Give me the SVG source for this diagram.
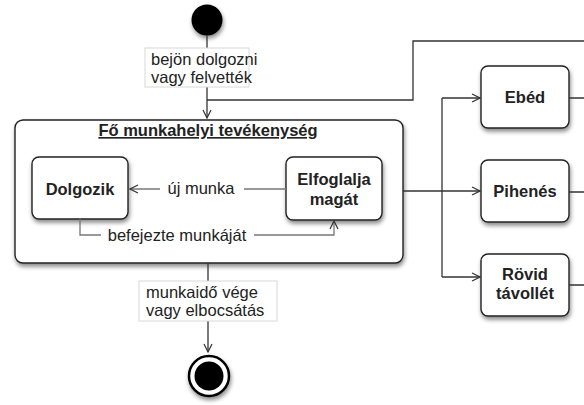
<svg xmlns="http://www.w3.org/2000/svg" width="584" height="405" viewBox="0 0 584 405">
<style>
.box{fill:#fff;stroke:#222;stroke-width:1.4}
.t{font-family:"Liberation Sans",Arial,sans-serif;font-size:16.5px;fill:#222}
.b{font-weight:bold;text-anchor:middle}
.lbl{fill:#fff;stroke:#d8d8d8;stroke-width:1}
.c{fill:none;stroke:#333;stroke-width:1.3}
.g{fill:none;stroke:#777;stroke-width:1.3}
</style>
<defs>
<filter id="sh" x="-20%" y="-20%" width="140%" height="150%">
<feDropShadow dx="1" dy="3" stdDeviation="2" flood-color="#000" flood-opacity="0.45"/>
</filter>
<marker id="ar" markerWidth="10" markerHeight="10" refX="9" refY="5" orient="auto" markerUnits="userSpaceOnUse">
<path d="M1,1 L9,5 L1,9" fill="none" stroke="#333" stroke-width="1.2"/>
</marker>
</defs>

<g id="start">
<circle cx="207" cy="20" r="15.5" fill="#000" filter="url(#sh)"/>
</g>

<g id="main">
<rect class="box" x="15" y="120" width="388" height="143" rx="8" filter="url(#sh)"/>
<text class="t b" x="208" y="136" text-decoration="underline">Fő munkahelyi tevékenység</text>
</g>

<g id="dolgozik">
<rect class="box" x="32" y="157" width="96" height="62" rx="7" filter="url(#sh)"/>
<text class="t b" x="80" y="195">Dolgozik</text>
</g>

<g id="elfoglalja">
<rect class="box" x="286" y="157" width="96" height="63" rx="7" filter="url(#sh)"/>
<text class="t b" x="334" y="185">Elfoglalja</text>
<text class="t b" x="334" y="205">magát</text>
</g>

<g id="ebed">
<rect class="box" x="481" y="66" width="88" height="62" rx="7" filter="url(#sh)"/>
<text class="t b" x="525" y="103">Ebéd</text>
</g>

<g id="pihenes">
<rect class="box" x="481" y="160" width="88" height="62" rx="7" filter="url(#sh)"/>
<text class="t b" x="525" y="197">Pihenés</text>
</g>

<g id="rovid">
<rect class="box" x="481" y="254" width="88" height="62" rx="7" filter="url(#sh)"/>
<text class="t b" x="525" y="280">Rövid</text>
<text class="t b" x="525" y="299">távollét</text>
</g>

<g id="end">
<circle cx="209" cy="376" r="20" fill="#fff" stroke="#000" stroke-width="2.5" filter="url(#sh)"/>
<circle cx="209" cy="376" r="14.5" fill="#000"/>
</g>

<g id="connectors">
<path class="c" d="M207,35 V118" marker-end="url(#ar)"/>
<path class="c" d="M207,100 H413 V41 H584"/>
<path class="g" d="M286,189 H130" marker-end="url(#ar)"/>
<path class="g" d="M80,219 V235 H334 V221" marker-end="url(#ar)"/>
<path class="c" d="M403,191 H480" marker-end="url(#ar)"/>
<path class="c" d="M442,98 V277"/>
<path class="c" d="M442,98 H480" marker-end="url(#ar)"/>
<path class="c" d="M442,277 H480" marker-end="url(#ar)"/>
<path class="c" d="M569,98 H584 M569,192 H584 M569,285 H584"/>
<path class="c" d="M208,263 V352" marker-end="url(#ar)"/>
</g>

<g id="label-start">
<rect class="lbl" x="145" y="48" width="104" height="39"/>
<text class="t" x="151" y="65">bejön dolgozni</text>
<text class="t" x="151" y="83">vagy felvették</text>
</g>

<g id="label-uj">
<rect x="160" y="180" width="84" height="18" fill="#fff"/>
<text class="t" x="201" y="194" text-anchor="middle" fill="#444">új munka</text>
</g>

<g id="label-befejezte">
<rect x="101" y="226" width="153" height="18" fill="#fff"/>
<text class="t" x="177" y="241" text-anchor="middle">befejezte munkáját</text>
</g>

<g id="label-end">
<rect class="lbl" x="139" y="281" width="138" height="40"/>
<text class="t" x="146" y="298">munkaidő vége</text>
<text class="t" x="146" y="316">vagy elbocsátás</text>
</g>
</svg>
